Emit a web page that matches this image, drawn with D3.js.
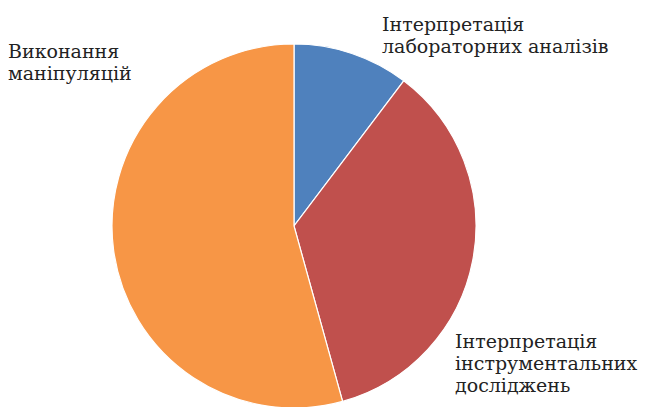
<!DOCTYPE html>
<html>
<head>
<meta charset="utf-8">
<script src="https://cdn.jsdelivr.net/npm/d3@7"></script>
<style>
  html, body { margin: 0; padding: 0; background: #fff; }
  svg { display: block; }
</style>
</head>
<body>
<svg id="chart"></svg>
<script>
const categories = [
  'Інтерпретація лабораторних аналізів',
  'Інтерпретація інструментальних досліджень',
  'Виконання маніпуляцій'
];
const values = [10.3, 35.4, 54.3];
const colors = ['#4F81BD', '#C0504D', '#F79646'];
const labelLines = [
  ['Інтерпретація', 'лабораторних аналізів'],
  ['Інтерпретація', 'інструментальних', 'досліджень'],
  ['Виконання', 'маніпуляцій']
];

const width = 650;
const height = 407;
const cx = 294;
const cy = 226;
const radius = 182;

const svg = d3.select('#chart')
  .attr('width', width)
  .attr('height', height);

const pie = d3.pie().sort(null).value(d => d);
const arc = d3.arc().innerRadius(0).outerRadius(radius);

const g = svg.append('g')
  .attr('transform', `translate(${cx}, ${cy})`);

g.selectAll('path')
  .data(pie(values))
  .enter()
  .append('path')
  .attr('d', arc)
  .attr('fill', (d, i) => colors[i])
  .attr('stroke', '#fff')
  .attr('stroke-width', 1.2);

// labels sit outside the pie, left aligned
const labelPos = [
  { x: 382, y: 31 },
  { x: 455, y: 348 },
  { x: 8, y: 58 }
];
const lineHeight = 22;

labelLines.forEach((lines, i) => {
  const t = svg.append('text')
    .attr('x', labelPos[i].x)
    .attr('y', labelPos[i].y)
    .attr('font-family', 'DejaVu Serif, serif')
    .attr('font-size', 19)
    .attr('fill', '#222');
  lines.forEach((line, j) => {
    t.append('tspan')
      .attr('x', labelPos[i].x)
      .attr('dy', j === 0 ? 0 : lineHeight)
      .text(line);
  });
});
</script>
</body>
</html>
